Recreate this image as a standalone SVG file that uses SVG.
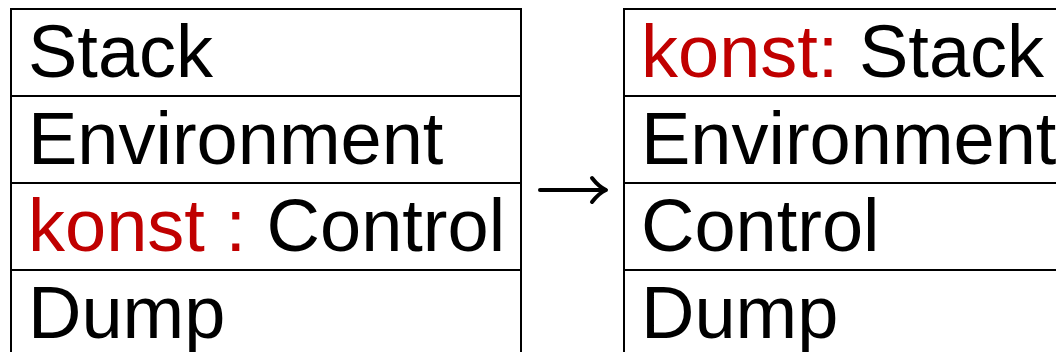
<svg xmlns="http://www.w3.org/2000/svg" width="1056" height="352" viewBox="0 0 1056 352">
<style>
.box{fill:#fff;stroke:#000;stroke-width:2}
.t{font-family:"Liberation Sans",Arial,sans-serif;font-size:74px;fill:#000}
.r{fill:#C00000}
.arrow{fill:none;stroke:#000;stroke-width:4;stroke-linecap:round;stroke-linejoin:round}
</style>
<rect x="0" y="0" width="1056" height="352" fill="#fff"/>
<g id="left-stack">
<rect class="box" x="11" y="9" width="510" height="87"/>
<text class="t" x="28" y="77">Stack</text>
</g>
<g id="left-env">
<rect class="box" x="11" y="96" width="510" height="87"/>
<text class="t" x="28" y="164">Environment</text>
</g>
<g id="left-control">
<rect class="box" x="11" y="183" width="510" height="87"/>
<text class="t" x="28" y="251"><tspan class="r">konst : </tspan>Control</text>
</g>
<g id="left-dump">
<rect class="box" x="11" y="270" width="510" height="90"/>
<text class="t" x="28" y="338">Dump</text>
</g>
<g id="right-stack">
<rect class="box" x="624" y="9" width="450" height="87"/>
<text class="t" x="641" y="77"><tspan class="r">konst: </tspan>Stack</text>
</g>
<g id="right-env">
<rect class="box" x="624" y="96" width="450" height="87"/>
<text class="t" x="641" y="164">Environment</text>
</g>
<g id="right-control">
<rect class="box" x="624" y="183" width="450" height="87"/>
<text class="t" x="641" y="251">Control</text>
</g>
<g id="right-dump">
<rect class="box" x="624" y="270" width="450" height="90"/>
<text class="t" x="641" y="338">Dump</text>
</g>
<g id="connectors">
<path class="arrow" d="M540 190 H605"/>
<path class="arrow" d="M592 178 Q599 187 606 190 Q599 193 592 202"/>
</g>
</svg>
